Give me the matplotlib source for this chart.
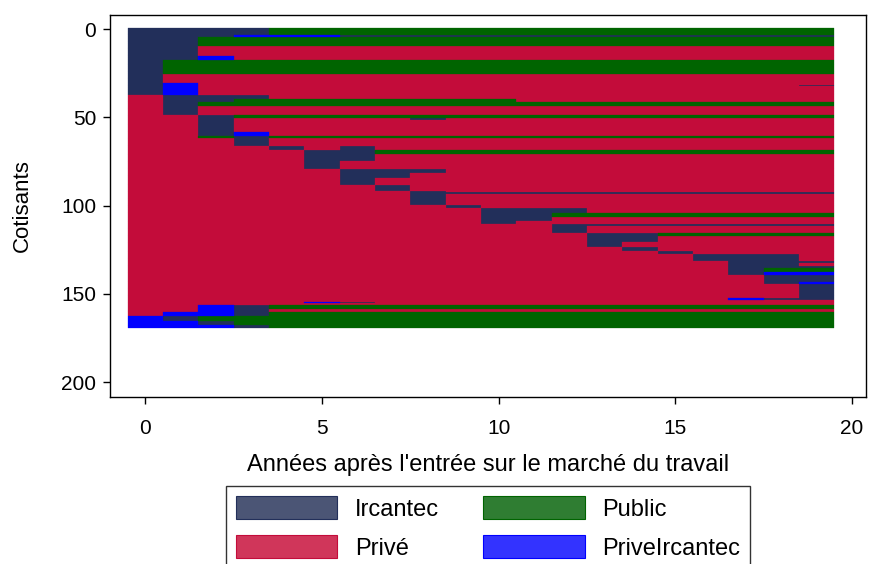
import matplotlib
matplotlib.use("Agg")
import matplotlib.pyplot as plt
from matplotlib.patches import Patch

plt.rcParams['font.family'] = ['Liberation Sans', 'DejaVu Sans']

# States: I = Ircantec, P = Privé, G = Public, B = PriveIrcantec
state_names = {"I": "Ircantec", "P": "Privé", "G": "Public", "B": "PriveIrcantec"}
cell_colors = {"I": "#222f5a", "P": "#c30c3a", "G": "#006400", "B": "#0000ff"}
legend_colors = {"I": "#4b5575", "P": "#d0365a", "G": "#2f7d32", "B": "#3333ff"}

years = list(range(20))

# Run-length coded sequences (state + duration in years), one entry per group of identical rows
group_sequences = [
    "I4 G16", "I3 B3 I14", "I2 G18", "I2 P18", "I2 B1 P17", "I1 G19", "I1 P19",
    "I1 B1 P18", "I1 B1 P17 I1", "I1 B1 P18", "P1 I3 P16", "P1 I2 G8 P9", "P1 I1 G18",
    "P1 I1 P18", "P2 I1 G17", "P2 I1 P5 I1 P11", "P2 I1 P17", "P2 I1 B1 P16",
    "P2 G1 I1 G16", "P3 I1 P16", "P4 I1 P1 I1 P13", "P5 I2 G13", "P5 I2 P13",
    "P5 I1 P14", "P6 I3 P11", "P6 I2 P12", "P6 I1 P13", "P7 I1 P12", "P8 I1 P11",
    "P8 I12", "P8 I1 P11", "P9 I1 P10", "P10 I3 P7", "P10 I2 G8", "P10 I2 P8",
    "P10 I1 P9", "P12 I8", "P12 I1 P7", "P13 I2 G5", "P13 I2 P5", "P13 I1 P6",
    "P14 I1 P5", "P15 I1 P4", "P16 I3 P1", "P17 I3", "P17 I2 P1", "P17 I3",
    "P17 I1 G2", "P17 I1 B2", "P18 I2", "P18 I1 B1", "P19 I1", "P17 B1 I2", "P20",
    "P5 B1 I1 P13", "P20", "P2 B1 I1 G16", "P2 B1 I1 P16", "P1 B2 I1 G16", "B1 I1 G18",
    "B2 I1 G17", "B3 I1 G16",
]
group_counts = [
    4, 1, 5, 6, 2, 8, 5,
    1, 1, 5, 2, 2, 2,
    5, 2, 1, 7, 2,
    1, 5, 2, 2, 4,
    5, 2, 3, 4, 3, 1,
    1, 6, 2, 3, 2, 2,
    2, 1, 4, 2, 3, 3,
    2, 2, 4, 1, 2, 1,
    2, 2, 4, 1, 8, 1, 1,
    1, 1, 2, 2, 2, 3,
    2, 2,
]

xticks = [0, 5, 10, 15, 20]
yticks = [0, 50, 100, 150, 200]
legend_order = ["I", "P", "G", "B"]


def expand(code):
    seq = []
    for tok in code.split():
        seq += [tok[0]] * int(tok[1:])
    return seq


rows = []
for code, n in zip(group_sequences, group_counts):
    rows += [expand(code)] * n

fig = plt.figure(figsize=(8.7, 5.64), dpi=100)
ax = fig.add_axes([110 / 870, 1 - 397 / 564, 756 / 870, 382 / 564])

for st in ["I", "P", "G", "B"]:
    ys, lefts, widths = [], [], []
    for r, seq in enumerate(rows):
        t = 0
        while t < len(seq):
            u = t
            while u < len(seq) and seq[u] == seq[t]:
                u += 1
            if seq[t] == st:
                ys.append(r)
                lefts.append(years[t] - 0.5)
                widths.append(u - t)
            t = u
    ax.barh(ys, widths, left=lefts, height=1.0, color=cell_colors[st],
            edgecolor=cell_colors[st], linewidth=0.2)

ax.set_xlim(-1.0, 20.4)
ax.set_ylim(208.5, -8)
ax.set_xticks(xticks)
ax.set_yticks(yticks)
ax.tick_params(labelsize=15, length=5, width=1, direction='out')
ax.tick_params(axis='x', pad=10.5)
ax.tick_params(axis='y', pad=5)
ax.set_xlabel("Années après l'entrée sur le marché du travail", fontsize=17, labelpad=12)
ax.set_ylabel("Cotisants", fontsize=16, labelpad=20)
for sp in ax.spines.values():
    sp.set_linewidth(1)

handles = [Patch(facecolor=legend_colors[s], edgecolor=cell_colors[s], linewidth=0.8,
                 label=state_names[s]) for s in legend_order]
leg = fig.legend(handles=handles, ncol=2, loc='upper center',
                 bbox_to_anchor=(488 / 870, 1 - 486 / 564), fontsize=17,
                 frameon=True, fancybox=False, edgecolor='black',
                 handlelength=4.3, handleheight=1.15, columnspacing=1.86,
                 handletextpad=0.76, borderpad=0.42, labelspacing=0.6,
                 borderaxespad=0)
leg.get_frame().set_linewidth(1)

fig.savefig("out.png", dpi=100)
